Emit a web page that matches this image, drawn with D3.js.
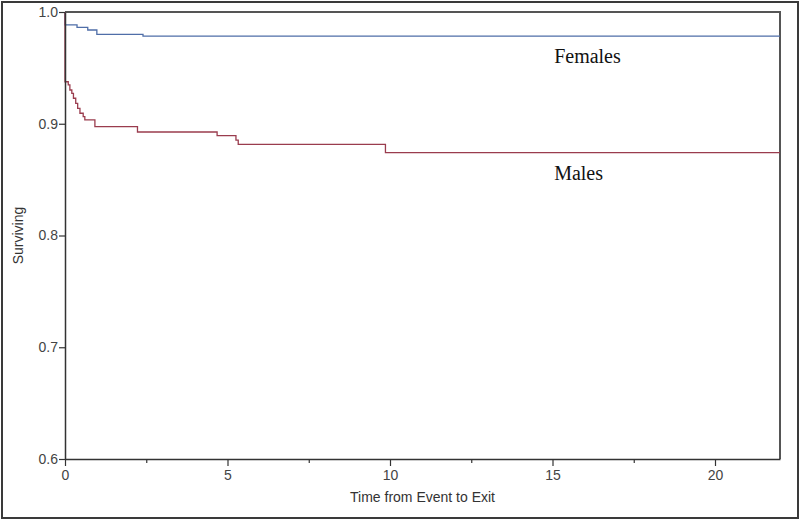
<!DOCTYPE html>
<html>
<head>
<meta charset="utf-8">
<script src="https://cdn.jsdelivr.net/npm/d3@7"></script>
<style>
  body { margin: 0; background: #fff; }
  svg { display: block; }
</style>
</head>
<body>
<div id="chart"></div>
<script>
// survival curves (time, proportion surviving)
const femaleTime = [0, 0, 0.37, 0.70, 0.98, 2.40, 22];
const femaleSurv = [1.0, 0.9884, 0.9863, 0.9839, 0.9800, 0.9785, 0.9785];

const maleTime = [0, 0, 0.10, 0.15, 0.21, 0.26, 0.33, 0.39, 0.46, 0.56, 0.61, 0.92, 2.23, 4.68, 5.26, 5.33, 9.86, 22];
const maleSurv = [1.0, 0.9376, 0.9347, 0.9302, 0.9272, 0.9228, 0.9183, 0.9138, 0.9094, 0.9063, 0.9034, 0.8974, 0.8926, 0.8893, 0.8854, 0.8816, 0.8741, 0.8741];

const yTicks = [0.6, 0.7, 0.8, 0.9, 1.0];
const xTicks = [0, 5, 10, 15, 20];
const xMinorTicks = [2.5, 7.5, 12.5, 17.5];

const W = 800, H = 523;
const m = { left: 65, right: 780, top: 12, bottom: 459 };

const svg = d3.select('#chart').append('svg')
    .attr('width', W)
    .attr('height', H);

// outer frame
svg.append('rect')
    .attr('x', 2).attr('y', 2)
    .attr('width', 796).attr('height', 516)
    .attr('fill', 'none')
    .attr('stroke', '#3a3a3a')
    .attr('stroke-width', 2);

const x = d3.scaleLinear().domain([0, 22]).range([m.left, m.right]);
const y = d3.scaleLinear().domain([0.6, 1.0]).range([m.bottom, m.top]);

// plot box (top and right)
svg.append('path')
    .attr('d', `M${m.left},${m.top}H${m.right}V${m.bottom}`)
    .attr('fill', 'none')
    .attr('stroke', '#555')
    .attr('stroke-width', 2);

const line = d3.line()
    .x(d => x(d[0]))
    .y(d => y(d[1]))
    .curve(d3.curveStepAfter);

const series = [
    { name: 'Females', pts: d3.zip(femaleTime, femaleSurv), color: '#4f6ea8' },
    { name: 'Males', pts: d3.zip(maleTime, maleSurv), color: '#9a3c4e' }
];

svg.selectAll('path.curve')
    .data(series)
    .enter()
    .append('path')
        .attr('class', 'curve')
        .attr('d', s => line(s.pts))
        .attr('fill', 'none')
        .attr('stroke', s => s.color)
        .attr('stroke-width', 1.3);

// axes
const yAxis = svg.append('g')
    .attr('transform', `translate(${m.left},0)`)
    .call(d3.axisLeft(y).tickValues(yTicks).tickFormat(d3.format('.1f')).tickSize(6).tickSizeOuter(0));

const xAxis = svg.append('g')
    .attr('transform', `translate(0,${m.bottom})`)
    .call(d3.axisBottom(x).tickValues(xTicks).tickFormat(d3.format('d')).tickSize(7).tickSizeOuter(0));

svg.append('g')
    .attr('transform', `translate(0,${m.bottom})`)
    .call(d3.axisBottom(x).tickValues(xMinorTicks).tickFormat('').tickSize(4).tickSizeOuter(0))
    .select('.domain').remove();

svg.selectAll('.domain').attr('stroke', '#333').attr('stroke-width', 1.5);
svg.selectAll('.tick line').attr('stroke', '#333').attr('stroke-width', 1.2);
svg.selectAll('.tick text')
    .attr('font-family', 'Liberation Sans, Arial, sans-serif')
    .attr('font-size', 14)
    .attr('fill', '#444');
yAxis.selectAll('.tick text').attr('x', -7);
xAxis.selectAll('.tick text').attr('y', 11);

// axis titles
svg.append('text')
    .attr('x', (m.left + m.right) / 2)
    .attr('y', 502)
    .attr('text-anchor', 'middle')
    .attr('font-family', 'Liberation Sans, Arial, sans-serif')
    .attr('font-size', 14)
    .attr('fill', '#333')
    .text('Time from Event to Exit');

svg.append('text')
    .attr('transform', `translate(23,${(m.top + m.bottom) / 2}) rotate(-90)`)
    .attr('text-anchor', 'middle')
    .attr('font-family', 'Liberation Sans, Arial, sans-serif')
    .attr('font-size', 14)
    .attr('fill', '#333')
    .text('Surviving');

// curve labels
svg.selectAll('text.lab')
    .data(series)
    .enter()
    .append('text')
        .attr('class', 'lab')
        .attr('x', x(15.05))
        .attr('y', s => y(s.pts[s.pts.length - 1][1]) + 27)
        .attr('font-family', 'Liberation Serif, Times New Roman, serif')
        .attr('font-size', 20)
        .attr('fill', '#111')
        .text(s => s.name);
</script>
</body>
</html>
